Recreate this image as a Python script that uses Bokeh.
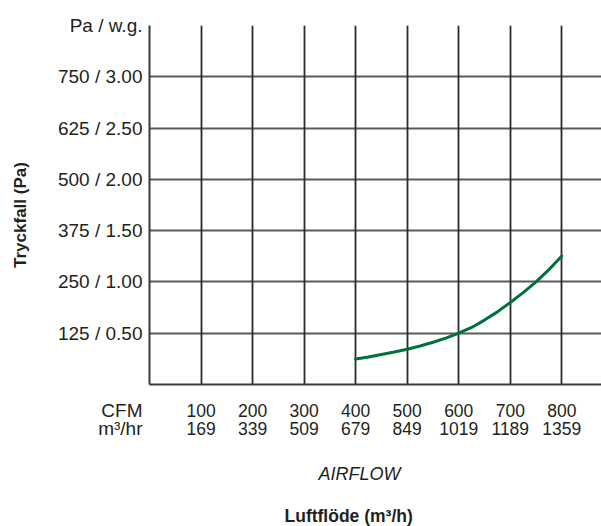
from bokeh.plotting import figure
from bokeh.models import (LinearAxis, FixedTicker, Range1d, Grid, Title)
from bokeh.embed import file_html
from bokeh.resources import INLINE

# ---- data ----
cfm_ticks = [100, 200, 300, 400, 500, 600, 700, 800]
m3hr_labels = ["169", "339", "509", "679", "849", "1019", "1189", "1359"]
pa_ticks = [125, 250, 375, 500, 625, 750, 875]
pa_labels = ["125 / 0.50", "250 / 1.00", "375 / 1.50", "500 / 2.00",
             "625 / 2.50", "750 / 3.00", "Pa / w.g."]
row_names = ["CFM", "m³/hr"]
curve_cfm = [400, 425, 450, 475, 500, 525, 550, 575, 600,
             625, 650, 675, 700, 725, 750, 775, 800]
curve_pa = [62, 67, 73, 79, 86, 94, 103, 113, 125,
            139, 157, 177, 200, 224, 250, 280, 313]

FONT = "Liberation Sans"
TXT = "#231f20"
YTITLE_POS = 413  # vertical anchor of the y title (data units)


def bare(axis):
    axis.major_tick_out = 0
    axis.major_tick_in = 0
    axis.minor_tick_out = 0
    axis.minor_tick_in = 0


p = figure(width=601, height=526, output_backend="svg", toolbar_location=None,
           x_range=Range1d(0, 877), y_range=Range1d(0, 875),
           x_axis_type=None, y_axis_type=None,
           min_border_left=149, min_border_right=0, min_border_top=25,
           min_border_bottom=141)
p.outline_line_color = None
p.background_fill_color = "white"
p.border_fill_color = "white"

# y axis (tick at 0 carries the row names of the two x scales, pushed below)
y_ticks = [0] + pa_ticks
y_labels = ["\n\n\n\n" + "\n".join(row_names)] + pa_labels
yaxis = LinearAxis(ticker=FixedTicker(ticks=y_ticks))
yaxis.major_label_overrides = {t: l for t, l in zip(y_ticks, y_labels)}
bare(yaxis)
yaxis.axis_line_color = "#3a3a3a"
yaxis.axis_line_width = 2
yaxis.major_label_text_font = FONT
yaxis.major_label_text_font_size = "19px"
yaxis.major_label_text_color = TXT
yaxis.major_label_text_line_height = 0.84
yaxis.major_label_standoff = 7
p.add_layout(yaxis, "left")

# y title as an outer axis label
ytitle = LinearAxis(ticker=FixedTicker(ticks=[YTITLE_POS]))
ytitle.major_label_overrides = {YTITLE_POS: "Tryckfall (Pa)"}
bare(ytitle)
ytitle.axis_line_color = None
ytitle.major_label_orientation = "vertical"
ytitle.major_label_text_font = FONT
ytitle.major_label_text_font_size = "17px"
ytitle.major_label_text_font_style = "bold"
ytitle.major_label_text_color = TXT
ytitle.major_label_standoff = 24
p.add_layout(ytitle, "left")

# x axis
xaxis = LinearAxis(ticker=FixedTicker(ticks=cfm_ticks))
xaxis.major_label_overrides = {t: f"{t}\n{m}" for t, m in zip(cfm_ticks, m3hr_labels)}
bare(xaxis)
xaxis.axis_line_color = "#3a3a3a"
xaxis.axis_line_width = 2
xaxis.major_label_text_font = FONT
xaxis.major_label_text_font_size = "17.5px"
xaxis.major_label_text_color = TXT
xaxis.major_label_text_line_height = 0.9
xaxis.major_label_standoff = 16
p.add_layout(xaxis, "below")

p.add_layout(Title(text="AIRFLOW", align="left", offset=169,
                   text_font=FONT, text_font_size="18px", text_font_style="italic",
                   text_color=TXT, standoff=40), "below")
p.add_layout(Title(text="Luftflöde (m³/h)", align="left", offset=135,
                   text_font=FONT, text_font_size="17.5px", text_font_style="bold",
                   text_color=TXT, standoff=1), "below")

# grid
p.add_layout(Grid(dimension=1, ticker=FixedTicker(ticks=pa_ticks),
                  grid_line_color="#5a5a5a", grid_line_width=2))
p.add_layout(Grid(dimension=0, ticker=FixedTicker(ticks=cfm_ticks),
                  grid_line_color="#2a2a2a", grid_line_width=1.8))

# curve
p.line(curve_cfm, curve_pa, line_color="#00703c", line_width=3,
       line_join="round", line_cap="round")

open("out.html", "w").write(file_html(p, INLINE))
